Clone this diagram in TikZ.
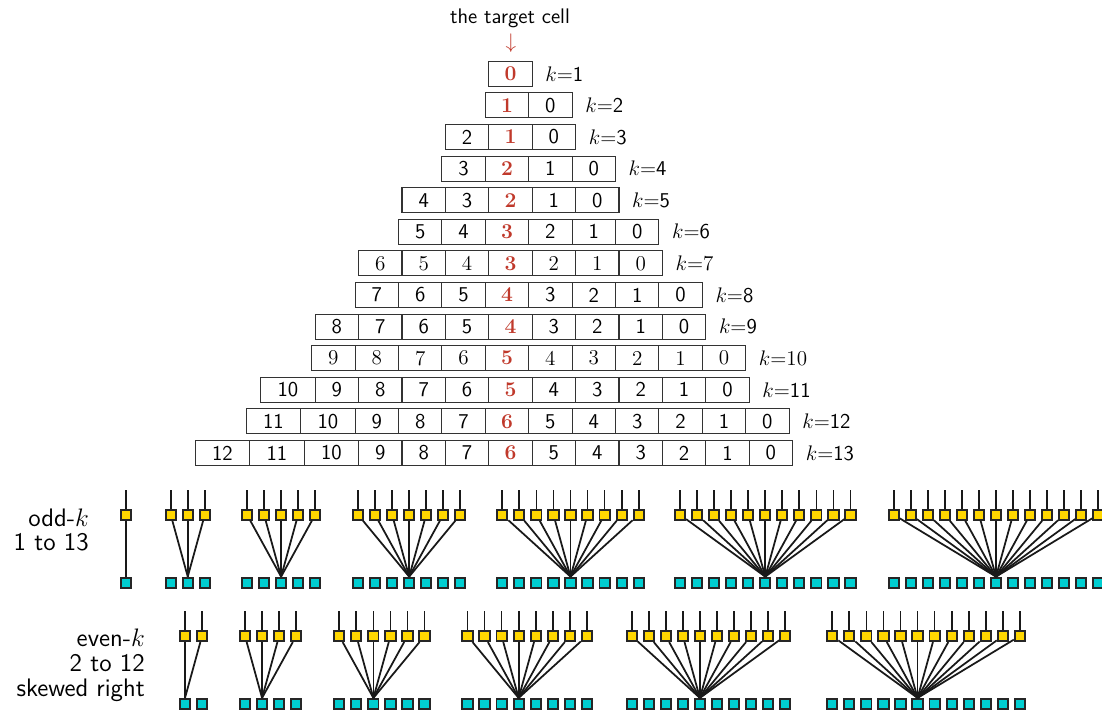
\documentclass[tikz,border=0pt]{standalone}
\usepackage{xcolor}
\usepackage{tikz}
\usetikzlibrary{positioning}
\definecolor{targetRed}{RGB}{192,57,43}
\definecolor{inGold}{RGB}{255,215,0}
\definecolor{outCyan}{RGB}{0,206,209}
\tikzset{
  % cells of the k rows
  cell/.style={
    draw=black!80,
    line width=0.6pt,
    minimum height=14.2pt,
    inner sep=0pt,
    outer sep=0pt,
    font=\sffamily\large
  },
  target/.style={
    font=\rmfamily\bfseries\large,
    text=targetRed
  },
  klab/.style={
    font=\sffamily\large
  },
  % squares of the fan diagrams
  insq/.style={
    draw=black!85,
    fill=inGold,
    line width=1.1pt,
    minimum size=5.8pt,
    inner sep=0pt
  },
  outsq/.style={
    draw=black!85,
    fill=outCyan,
    line width=1.1pt,
    minimum size=5.8pt,
    inner sep=0pt
  },
  wire/.style={
    line width=1pt,
    draw=black!90
  },
  sidelab/.style={
    anchor=east,
    align=right,
    font=\sffamily\fontsize{14.4pt}{14.2pt}\selectfont
  }
}

\begin{document}
\begin{tikzpicture}[x=0.2mm,y=-0.2mm]
\useasboundingbox (0,0) rectangle (1102,710);

\node[font=\sffamily\large] (title) at (510,18) {the target cell};
\node[font=\large, text=targetRed] (pointer) at (511,43) {$\downarrow$};

% rows k=1..13, target cell kept in one column
\foreach \k/\fnt in {1/\sffamily,2/\sffamily,3/\sffamily,4/\sffamily,5/\sffamily,6/\sffamily,7/\rmfamily,8/\sffamily,9/\sffamily,10/\rmfamily,11/\sffamily,12/\sffamily,13/\sffamily} {
  \pgfmathtruncatemacro{\tgt}{floor(\k/2)}
  \pgfmathtruncatemacro{\last}{\k-1}
  \pgfmathsetmacro{\xt}{isodd(\k) ? 510.5 : 507}
  \pgfmathsetmacro{\yr}{73.8+(\k-1)*31.6}
  \foreach \v in {0,...,\last} {
    \pgfmathsetmacro{\xc}{\xt+(\tgt-\v)*43.4-(\v>9)*(2*(\v-10)+1)*5.55}
    \pgfmathsetmacro{\cw}{(\v>9 ? 54.5 : 43.4)*0.569}
    \ifnum\v=\tgt\relax
      \node[cell, target, minimum width=\cw pt] (r\k-\v) at (\xc,\yr) {\v};
    \else
      \node[cell, minimum width=\cw pt] (r\k-\v) at (\xc,\yr) {\fnt\v};
    \fi
  }
  \node[klab, right=1.4mm of r\k-0] (k\k) {$k{=}${\fnt\k}};
}

% fan diagrams: odd k on top, even k below
\foreach \k/\xs/\yy in {1/125.7/514.7,3/170.7/514.7,5/247/514.7,7/358/514.7,9/502.3/514.7,11/680/514.7,13/893.7/514.7,
                        2/185/636,4/245/636,6/339.3/636,8/467.5/636,10/631.7/636,12/832.3/636} {
  \pgfmathtruncatemacro{\last}{\k-1}
  \pgfmathtruncatemacro{\hub}{\k-1-floor(\k/2)}
  \foreach \i in {0,...,\last} {
    \coordinate (f\k-top\i) at (\xs+\i*17.05,\yy-24.5);
    \node[insq] (f\k-in\i) at (\xs+\i*17.05,\yy) {};
    \node[outsq] (f\k-out\i) at (\xs+\i*17.05,\yy+68) {};
  }
  \foreach \i in {0,...,\last} {
    \draw[wire] (f\k-top\i) -- (f\k-in\i);
    \draw[wire] (f\k-in\i) -- (f\k-out\hub.north);
  }
}

\node[sidelab] (oddlab) at (95,530) {odd-$k$\\1 to 13};
\node[sidelab] (evenlab) at (151,665) {even-$k$\\2 to 12\\skewed right};

\end{tikzpicture}
\end{document}
